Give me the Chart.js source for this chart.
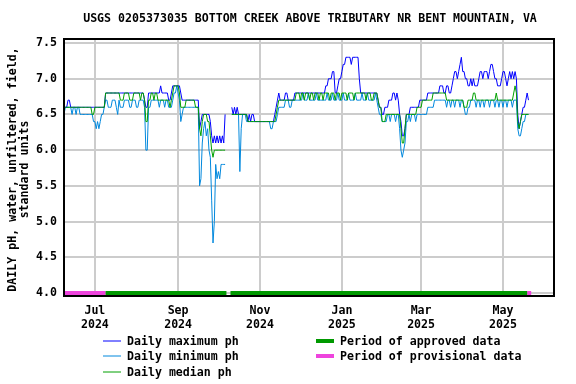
<!DOCTYPE html>
<html lang="en">
<head>
<meta charset="UTF-8">
<title>Bottom Creek daily pH</title>
<script src="https://cdn.jsdelivr.net/npm/chart.js"></script>
<style>
    body { margin: 0; background: #fff; }
    #wrap { width: 576px; height: 384px; }
</style>
</head>
<body>
<div id="wrap"><canvas id="chart" width="576" height="384"></canvas></div>
<script>
    // daily values, one per day starting at START_DATE (null = no data)
    const START_DATE = '2024-06-08';
    const END_DATE = '2025-06-08';

    const maxPh = [
        6.6,6.6,6.6,6.7,6.7,6.6,6.6,6.6,6.6,6.6,
        6.6,6.6,6.6,6.6,6.6,6.6,6.6,6.6,6.6,6.6,
        6.6,6.6,6.6,6.6,6.6,6.6,6.6,6.6,6.6,6.6,
        6.6,6.8,6.8,6.8,6.8,6.8,6.8,6.8,6.8,6.8,
        6.8,6.8,6.8,6.8,6.8,6.8,6.8,6.8,6.8,6.8,
        6.8,6.8,6.8,6.8,6.8,6.8,6.8,6.8,6.8,6.8,
        6.7,6.6,6.6,6.8,6.8,6.8,6.8,6.8,6.8,6.8,
        6.8,6.8,6.9,6.8,6.8,6.8,6.8,6.8,6.7,6.7,
        6.8,6.9,6.9,6.9,6.9,6.9,6.9,6.8,6.7,6.7,
        6.7,6.7,6.7,6.7,6.7,6.7,6.7,6.7,6.7,6.7,
        6.7,6.3,6.4,6.5,6.5,6.5,6.5,6.5,6.5,6.4,
        6.2,6.1,6.2,6.1,6.2,6.1,6.2,6.1,6.2,6.1,
        6.5,null,null,null,null,6.6,6.5,6.6,6.5,6.6,
        6.5,6.5,6.5,6.5,6.5,6.5,6.5,6.4,6.5,6.4,
        6.5,6.5,6.4,6.4,6.4,6.4,6.4,6.4,6.4,6.4,
        6.4,6.4,6.4,6.4,6.4,6.4,6.4,6.5,6.6,6.7,
        6.8,6.7,6.7,6.7,6.7,6.8,6.8,6.7,6.7,6.7,
        6.7,6.7,6.8,6.8,6.8,6.8,6.8,6.8,6.8,6.8,
        6.8,6.8,6.8,6.8,6.8,6.8,6.8,6.8,6.8,6.8,
        6.8,6.8,6.8,6.8,6.8,6.9,6.9,7.0,7.0,7.0,
        7.1,7.1,6.8,6.8,6.9,7.0,7.0,7.1,7.2,7.2,
        7.3,7.3,7.3,7.3,7.2,7.3,7.3,7.3,7.3,7.3,
        7.0,6.8,6.8,6.8,6.8,6.8,6.8,6.8,6.8,6.8,
        6.8,6.8,6.8,6.8,6.7,6.6,6.6,6.5,6.5,6.6,
        6.6,6.6,6.7,6.7,6.7,6.8,6.8,6.7,6.8,6.7,
        6.5,6.4,6.2,6.2,6.3,6.5,6.5,6.5,6.6,6.6,
        6.6,6.6,6.6,6.6,6.6,6.7,6.7,6.7,6.7,6.7,
        6.7,6.8,6.8,6.8,6.8,6.8,6.8,6.8,6.8,6.8,
        6.9,6.9,6.9,6.8,6.8,6.9,6.9,6.8,6.8,6.9,
        7.0,7.1,7.1,7.0,7.1,7.2,7.3,7.1,7.1,7.0,
        7.0,6.9,6.9,7.0,6.9,7.0,6.9,6.9,6.9,7.0,
        7.1,7.1,7.0,7.1,7.1,7.1,7.0,7.1,7.2,7.2,
        7.1,7.0,7.0,6.9,6.9,6.9,7.0,7.1,7.1,7.0,
        6.9,7.0,7.1,7.0,7.1,7.0,7.1,7.0,6.5,6.3,
        6.4,6.5,6.6,6.6,6.7,6.8,6.7
    ];

    const minPh = [
        6.5,6.6,6.6,6.6,6.6,6.6,6.5,6.6,6.6,6.5,
        6.6,6.6,6.5,6.5,6.5,6.5,6.5,6.5,6.5,6.5,
        6.5,6.5,6.4,6.4,6.3,6.4,6.3,6.4,6.5,6.5,
        6.6,6.7,6.7,6.6,6.6,6.6,6.7,6.7,6.7,6.6,
        6.5,6.7,6.6,6.6,6.6,6.7,6.7,6.7,6.7,6.6,
        6.6,6.7,6.7,6.7,6.6,6.6,6.7,6.7,6.7,6.7,
        6.6,6.0,6.0,6.6,6.6,6.7,6.7,6.7,6.7,6.7,
        6.7,6.6,6.7,6.7,6.7,6.6,6.7,6.7,6.6,6.6,
        6.6,6.7,6.8,6.8,6.9,6.8,6.7,6.4,6.5,6.6,
        6.6,6.6,6.6,6.6,6.6,6.6,6.6,6.6,6.6,6.6,
        6.6,5.5,5.6,6.1,6.3,6.4,6.2,6.3,6.0,5.9,
        5.3,4.7,5.0,5.8,5.6,5.7,5.6,5.8,5.8,5.8,
        5.8,null,null,null,null,6.5,6.5,6.5,6.5,6.5,
        6.5,5.7,6.3,6.5,6.5,6.5,6.4,6.4,6.4,6.4,
        6.4,6.4,6.4,6.4,6.4,6.4,6.4,6.4,6.4,6.4,
        6.4,6.4,6.4,6.4,6.3,6.3,6.4,6.4,6.4,6.5,
        6.6,6.6,6.6,6.6,6.6,6.7,6.7,6.7,6.6,6.6,
        6.7,6.7,6.7,6.7,6.7,6.7,6.7,6.7,6.8,6.7,
        6.7,6.7,6.8,6.7,6.7,6.7,6.7,6.7,6.8,6.7,
        6.7,6.7,6.7,6.7,6.7,6.7,6.8,6.7,6.7,6.7,
        6.8,6.7,6.7,6.7,6.8,6.7,6.7,6.7,6.8,6.7,
        6.7,6.7,6.8,6.7,6.7,6.7,6.7,6.8,6.7,6.7,
        6.7,6.7,6.8,6.7,6.7,6.7,6.8,6.7,6.7,6.7,
        6.7,6.7,6.8,6.7,6.6,6.5,6.5,6.4,6.4,6.4,
        6.4,6.5,6.5,6.4,6.5,6.5,6.5,6.4,6.5,6.5,
        6.3,6.0,5.9,6.0,6.1,6.4,6.4,6.5,6.4,6.5,
        6.5,6.5,6.4,6.5,6.5,6.5,6.5,6.5,6.5,6.5,
        6.5,6.6,6.6,6.6,6.6,6.6,6.7,6.7,6.7,6.7,
        6.7,6.7,6.7,6.7,6.7,6.6,6.7,6.7,6.6,6.7,
        6.7,6.6,6.7,6.7,6.7,6.6,6.7,6.7,6.6,6.5,
        6.5,6.6,6.6,6.7,6.7,6.7,6.7,6.6,6.7,6.7,
        6.6,6.7,6.7,6.6,6.7,6.7,6.7,6.6,6.7,6.7,
        6.7,6.6,6.7,6.7,6.6,6.7,6.7,6.6,6.7,6.7,
        6.6,6.7,6.7,6.7,6.6,6.7,6.7,6.7,6.3,6.2,
        6.2,6.3,6.4,6.4,6.5,6.5,6.5
    ];

    const medianPh = [
        6.6,6.6,6.6,6.6,6.6,6.6,6.6,6.6,6.6,6.6,
        6.6,6.6,6.6,6.6,6.6,6.6,6.6,6.6,6.6,6.6,
        6.6,6.5,6.5,6.6,6.6,6.6,6.6,6.6,6.6,6.6,
        6.6,6.8,6.8,6.8,6.8,6.8,6.8,6.8,6.8,6.8,
        6.8,6.8,6.7,6.7,6.7,6.8,6.8,6.8,6.8,6.7,
        6.7,6.7,6.8,6.8,6.8,6.8,6.8,6.7,6.8,6.8,
        6.7,6.4,6.4,6.7,6.7,6.8,6.8,6.7,6.8,6.8,
        6.7,6.7,6.7,6.7,6.7,6.7,6.7,6.7,6.7,6.6,
        6.7,6.8,6.9,6.9,6.9,6.9,6.8,6.6,6.6,6.6,
        6.6,6.7,6.7,6.7,6.7,6.7,6.7,6.7,6.6,6.6,
        6.6,6.3,6.2,6.4,6.5,6.5,6.5,6.4,6.4,6.2,
        6.0,5.9,6.0,6.0,6.0,6.0,6.0,6.0,6.0,6.0,
        6.0,null,null,null,null,6.5,6.5,6.5,6.5,6.5,
        6.5,6.5,6.5,6.5,6.5,6.5,6.5,6.4,6.4,6.4,
        6.4,6.4,6.4,6.4,6.4,6.4,6.4,6.4,6.4,6.4,
        6.4,6.4,6.4,6.4,6.4,6.4,6.4,6.4,6.5,6.6,
        6.7,6.7,6.7,6.7,6.7,6.7,6.7,6.7,6.7,6.7,
        6.7,6.7,6.7,6.8,6.8,6.8,6.7,6.8,6.8,6.7,
        6.8,6.8,6.8,6.7,6.8,6.8,6.7,6.8,6.8,6.8,
        6.7,6.8,6.8,6.7,6.8,6.8,6.8,6.8,6.7,6.8,
        6.8,6.8,6.7,6.8,6.8,6.8,6.7,6.8,6.8,6.8,
        6.8,6.7,6.8,6.8,6.8,6.8,6.7,6.8,6.8,6.8,
        6.8,6.8,6.8,6.8,6.8,6.7,6.8,6.8,6.8,6.7,
        6.7,6.8,6.8,6.8,6.7,6.6,6.6,6.4,6.4,6.4,
        6.5,6.5,6.5,6.5,6.5,6.5,6.5,6.5,6.5,6.5,
        6.5,6.3,6.1,6.1,6.3,6.5,6.5,6.5,6.5,6.5,
        6.5,6.5,6.5,6.6,6.6,6.6,6.6,6.7,6.7,6.7,
        6.7,6.7,6.7,6.7,6.7,6.8,6.8,6.8,6.8,6.8,
        6.8,6.8,6.8,6.8,6.8,6.7,6.7,6.7,6.7,6.7,
        6.7,6.7,6.7,6.7,6.7,6.7,6.7,6.7,6.6,6.6,
        6.6,6.7,6.7,6.7,6.7,6.8,6.8,6.7,6.7,6.7,
        6.7,6.7,6.7,6.7,6.7,6.7,6.7,6.7,6.7,6.7,
        6.7,6.7,6.8,6.7,6.7,6.7,6.7,6.7,6.7,6.7,
        6.7,6.7,6.7,6.7,6.7,6.8,6.9,6.8,6.4,6.3,
        6.4,6.5,6.5,6.5,6.5,6.5,6.5
    ];

    const monthTicks = ['2024-07-01', '2024-09-01', '2024-11-01', '2025-01-01', '2025-03-01', '2025-05-01'];
    const monthLabels = [['Jul', '2024'], ['Sep', '2024'], ['Nov', '2024'], ['Jan', '2025'], ['Mar', '2025'], ['May', '2025']];
    const yTicks = [4.0, 4.5, 5.0, 5.5, 6.0, 6.5, 7.0, 7.5];

    const approvedPeriods = [['2024-07-09', '2024-10-07'], ['2024-10-10', '2025-05-19']];
    const provisionalPeriods = [['2024-06-08', '2024-07-09'], ['2025-05-19', '2025-05-22']];

    const TITLE = 'USGS 0205373035 BOTTOM CREEK ABOVE TRIBUTARY NR BENT MOUNTAIN, VA';
    const Y_TITLE = ['DAILY pH, water, unfiltered, field,', 'standard units'];
    const FONT = 'DejaVu Sans Mono';

    function dayIndex(s) {
        const toUtc = d => { const [y, m, dd] = d.split('-').map(Number); return Date.UTC(y, m - 1, dd); };
        return Math.round((toUtc(s) - toUtc(START_DATE)) / 86400000);
    }
    const toPoints = arr => arr.map((v, i) => ({ x: i, y: v }));

    const datasets = [
        { label: 'Daily median ph', data: toPoints(medianPh), borderColor: '#00a000', order: 1 },
        { label: 'Daily maximum ph', data: toPoints(maxPh), borderColor: '#0000ff', order: 2 },
        { label: 'Daily minimum ph', data: toPoints(minPh), borderColor: '#0088dd', order: 3 }
    ];
    approvedPeriods.forEach(p => datasets.push({
        label: 'Period of approved data', data: p.map(d => ({ x: dayIndex(d), y: 4.0 })),
        borderColor: '#009900', borderWidth: 4, order: 0
    }));
    provisionalPeriods.forEach(p => datasets.push({
        label: 'Period of provisional data', data: p.map(d => ({ x: dayIndex(d), y: 4.0 })),
        borderColor: '#ee44dd', borderWidth: 4, order: 0
    }));

    // legend entries: [label, color, lineWidth, x, y]
    const legendItems = [
        ['Daily maximum ph', '#0000ff', 1, 103, 341],
        ['Daily minimum ph', '#0088dd', 1, 103, 356],
        ['Daily median ph', '#00a000', 1, 103, 372],
        ['Period of approved data', '#009900', 4, 316, 341],
        ['Period of provisional data', '#ee44dd', 4, 316, 356]
    ];

    const decorations = {
        id: 'decorations',
        afterDraw(chart) {
            const { ctx, chartArea: a } = chart;
            ctx.save();
            // plot frame
            ctx.strokeStyle = '#000';
            ctx.lineWidth = 2;
            ctx.strokeRect(a.left, a.top, a.right - a.left, a.bottom - a.top);

            ctx.fillStyle = '#000';
            ctx.font = `bold 11.6px "${FONT}"`;
            ctx.textBaseline = 'middle';
            ctx.textAlign = 'center';
            ctx.fillText(TITLE, 310, 19);

            // y axis title, rotated
            ctx.save();
            ctx.translate(13, (a.top + a.bottom) / 2 + 2);
            ctx.rotate(-Math.PI / 2);
            ctx.fillText(Y_TITLE[0], 0, 0);
            ctx.fillText(Y_TITLE[1], 0, 12);
            ctx.restore();

            // legend
            ctx.textAlign = 'left';
            legendItems.forEach(([label, color, w, x, y]) => {
                ctx.strokeStyle = color;
                ctx.lineWidth = w;
                ctx.beginPath();
                ctx.moveTo(x, y);
                ctx.lineTo(x + 18, y);
                ctx.stroke();
                ctx.fillText(label, x + 24, y + 1);
            });
            ctx.restore();
        }
    };

    const tickFont = { family: FONT, size: 11.6, weight: 'bold', lineHeight: 1.2 };

    new Chart(document.getElementById('chart'), {
        type: 'line',
        data: { datasets },
        plugins: [decorations],
        options: {
            responsive: false,
            animation: false,
            devicePixelRatio: 1,
            layout: { padding: { top: 39, right: 22, left: 0, bottom: 0 } },
            elements: { point: { radius: 0 }, line: { borderWidth: 1, tension: 0 } },
            plugins: { legend: { display: false }, tooltip: { enabled: false }, title: { display: false } },
            scales: {
                x: {
                    type: 'linear',
                    min: 0,
                    max: dayIndex(END_DATE),
                    afterBuildTicks: s => { s.ticks = monthTicks.map(t => ({ value: dayIndex(t) })); },
                    afterFit: s => { s.height = 88; },
                    grid: { color: '#cccccc', lineWidth: 2, drawTicks: false },
                    border: { display: false },
                    ticks: {
                        autoSkip: false, maxRotation: 0, padding: 8, color: '#000', font: tickFont,
                        callback: (v, i) => monthLabels[i]
                    }
                },
                y: {
                    min: 3.958,
                    max: 7.556,
                    afterBuildTicks: s => { s.ticks = yTicks.map(v => ({ value: v })); },
                    afterFit: s => { s.width = 64; },
                    grid: { color: '#cccccc', lineWidth: 2, drawTicks: false },
                    border: { display: false },
                    ticks: { padding: 7, color: '#000', font: tickFont, callback: v => v.toFixed(1) }
                }
            }
        }
    });
</script>
</body>
</html>
